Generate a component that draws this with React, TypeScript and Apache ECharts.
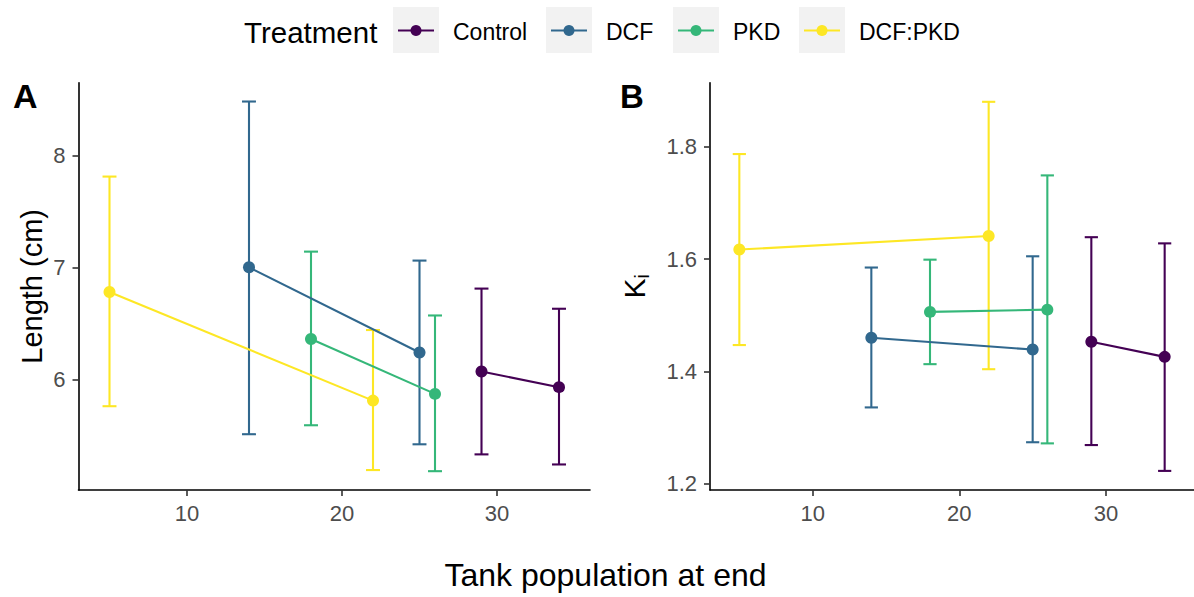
import React, { useEffect, useRef } from "react";
import * as echarts from "echarts";

const FONT = "'Liberation Sans', Arial, Helvetica, sans-serif";

const treatments = ["Control", "DCF", "PKD", "DCF:PKD"];
const colors = ["#440154", "#31688E", "#35B779", "#FDE725"];

// Tank population at end (x)
const popControl = [29, 34];
const popDCF = [14, 25];
const popPKD = [18, 26];
const popDCFPKD = [5, 22];

// Panel A: Length (cm)
const lenMeanControl = [6.07, 5.93];
const lenLowControl = [5.33, 5.24];
const lenHighControl = [6.81, 6.63];
const lenMeanDCF = [7.0, 6.24];
const lenLowDCF = [5.51, 5.42];
const lenHighDCF = [8.48, 7.06];
const lenMeanPKD = [6.36, 5.87];
const lenLowPKD = [5.59, 5.18];
const lenHighPKD = [7.14, 6.57];
const lenMeanDCFPKD = [6.78, 5.81];
const lenLowDCFPKD = [5.76, 5.19];
const lenHighDCFPKD = [7.81, 6.44];

// Panel B: K_i
const kMeanControl = [1.453, 1.426];
const kLowControl = [1.269, 1.223];
const kHighControl = [1.639, 1.628];
const kMeanDCF = [1.46, 1.439];
const kLowDCF = [1.336, 1.274];
const kHighDCF = [1.585, 1.605];
const kMeanPKD = [1.506, 1.51];
const kLowPKD = [1.413, 1.272];
const kHighPKD = [1.599, 1.749];
const kMeanDCFPKD = [1.617, 1.641];
const kLowDCFPKD = [1.447, 1.404];
const kHighDCFPKD = [1.787, 1.88];

const xTicks = [10, 20, 30];
const lenTicks = [6, 7, 8];
const kTicks = [1.2, 1.4, 1.6, 1.8];

const pops = [popControl, popDCF, popPKD, popDCFPKD];
const lenMeans = [lenMeanControl, lenMeanDCF, lenMeanPKD, lenMeanDCFPKD];
const lenLows = [lenLowControl, lenLowDCF, lenLowPKD, lenLowDCFPKD];
const lenHighs = [lenHighControl, lenHighDCF, lenHighPKD, lenHighDCFPKD];
const kMeans = [kMeanControl, kMeanDCF, kMeanPKD, kMeanDCFPKD];
const kLows = [kLowControl, kLowDCF, kLowPKD, kLowDCFPKD];
const kHighs = [kHighControl, kHighDCF, kHighPKD, kHighDCFPKD];

const CAP_HALF = 0.45;

function errorSeries(name: string, color: string, idx: number, x: number[], lo: number[], hi: number[]) {
  return {
    type: "custom",
    name,
    xAxisIndex: idx,
    yAxisIndex: idx,
    clip: false,
    encode: { x: 0, y: [1, 2] },
    data: x.map((v, i) => [v, lo[i], hi[i]]),
    renderItem: (params: any, api: any) => {
      const xv = api.value(0);
      const l = api.value(1);
      const h = api.value(2);
      const top = api.coord([xv, h]);
      const bot = api.coord([xv, l]);
      const left = api.coord([xv - CAP_HALF, h])[0];
      const right = api.coord([xv + CAP_HALF, h])[0];
      const st = { stroke: color, lineWidth: 2.1, fill: null };
      return {
        type: "group",
        children: [
          { type: "line", shape: { x1: top[0], y1: top[1], x2: bot[0], y2: bot[1] }, style: st },
          { type: "line", shape: { x1: left, y1: top[1], x2: right, y2: top[1] }, style: st },
          { type: "line", shape: { x1: left, y1: bot[1], x2: right, y2: bot[1] }, style: st },
        ],
      };
    },
  };
}

function lineSeries(name: string, color: string, idx: number, x: number[], m: number[]) {
  return {
    type: "line",
    name,
    xAxisIndex: idx,
    yAxisIndex: idx,
    data: x.map((v, i) => [v, m[i]]),
    symbol: "circle",
    symbolSize: 12,
    showSymbol: true,
    lineStyle: { color, width: 2.1 },
    itemStyle: { color },
    clip: false,
  };
}

const axisLineStyle = { show: true, lineStyle: { color: "#000", width: 1.6 } };

function xAxis(idx: number) {
  return {
    type: "value",
    gridIndex: idx,
    min: 3,
    max: 36,
    axisLine: axisLineStyle,
    axisTick: { show: true, customValues: xTicks, length: 6, lineStyle: { color: "#333", width: 1.6 } },
    axisLabel: { customValues: xTicks, color: "#4D4D4D", fontSize: 22, margin: 12, fontFamily: FONT },
    splitLine: { show: false },
  };
}

function legendGraphics() {
  const boxes = [393, 546, 673, 799];
  const out: any[] = [
    {
      type: "text",
      x: 244,
      y: 32.5,
      style: { text: "Treatment", fontSize: 29.5, fontFamily: FONT, fill: "#000", verticalAlign: "middle", textAlign: "left" },
    },
  ];
  treatments.forEach((t, i) => {
    const b = boxes[i];
    out.push({ type: "rect", shape: { x: b, y: 7, width: 46, height: 46 }, style: { fill: "#F2F2F2" } });
    out.push({ type: "line", shape: { x1: b + 5, y1: 30.5, x2: b + 41, y2: 30.5 }, style: { stroke: colors[i], lineWidth: 2.1 } });
    out.push({ type: "circle", shape: { cx: b + 23, cy: 30.5, r: 5.5 }, style: { fill: colors[i] } });
    out.push({
      type: "text",
      x: b + 60,
      y: 31.5,
      style: { text: t, fontSize: 23, fontFamily: FONT, fill: "#000", verticalAlign: "middle", textAlign: "left" },
    });
  });
  return out;
}

export default function App() {
  const ref = useRef<HTMLDivElement>(null);
  useEffect(() => {
    if (!ref.current) return;
    const chart = echarts.init(ref.current, undefined, { renderer: "svg" });
    const series: any[] = [];
    treatments.forEach((t, i) => {
      series.push(errorSeries(t, colors[i], 0, pops[i], lenLows[i], lenHighs[i]));
      series.push(lineSeries(t, colors[i], 0, pops[i], lenMeans[i]));
      series.push(errorSeries(t, colors[i], 1, pops[i], kLows[i], kHighs[i]));
      series.push(lineSeries(t, colors[i], 1, pops[i], kMeans[i]));
    });
    const option: any = {
      animation: false,
      textStyle: { fontFamily: FONT },
      grid: [
        { left: 78.5, top: 82.7, width: 511.5, height: 407.3 },
        { left: 710, top: 82.7, width: 487, height: 407.3 },
      ],
      xAxis: [xAxis(0), xAxis(1)],
      yAxis: [
        {
          type: "value",
          gridIndex: 0,
          min: 5.012,
          max: 8.648,
          name: "Length (cm)",
          nameLocation: "middle",
          nameGap: 32,
          nameTextStyle: { fontSize: 29, color: "#000", fontFamily: FONT },
          axisLine: axisLineStyle,
          axisTick: { show: true, customValues: lenTicks, length: 6, lineStyle: { color: "#333", width: 1.6 } },
          axisLabel: { customValues: lenTicks, color: "#4D4D4D", fontSize: 22, margin: 13, fontFamily: FONT },
          splitLine: { show: false },
        },
        {
          type: "value",
          gridIndex: 1,
          min: 1.189,
          max: 1.914,
          name: "{k|K}{i|i}",
          nameLocation: "middle",
          nameGap: 58,
          nameTextStyle: {
            color: "#000",
            fontFamily: FONT,
            rich: {
              k: { fontSize: 30, lineHeight: 35, fontFamily: FONT, color: "#000" },
              i: { fontSize: 20, lineHeight: 20, verticalAlign: "bottom", fontFamily: FONT, color: "#000" },
            },
          },
          axisLine: axisLineStyle,
          axisTick: { show: true, customValues: kTicks, length: 6, lineStyle: { color: "#333", width: 1.6 } },
          axisLabel: {
            customValues: kTicks,
            color: "#4D4D4D",
            fontSize: 22,
            margin: 13,
            fontFamily: FONT,
            formatter: (v: number) => v.toFixed(1),
          },
          splitLine: { show: false },
        },
      ],
      series,
      graphic: [
        ...legendGraphics(),
        {
          type: "text",
          x: 13,
          y: 96,
          style: { text: "A", fontSize: 34, fontWeight: "bold", fontFamily: FONT, fill: "#000", verticalAlign: "middle" },
        },
        {
          type: "text",
          x: 620,
          y: 96,
          style: { text: "B", fontSize: 33, fontWeight: "bold", fontFamily: FONT, fill: "#000", verticalAlign: "middle" },
        },
        {
          type: "text",
          x: 605.5,
          y: 575,
          style: {
            text: "Tank population at end",
            fontSize: 32,
            fontFamily: FONT,
            fill: "#000",
            textAlign: "center",
            verticalAlign: "middle",
          },
        },
      ],
    };
    chart.setOption(option);
    return () => chart.dispose();
  }, []);
  return (
    <div
      ref={ref}
      style={{ position: "fixed", left: 0, top: 0, width: 1194, height: 597, background: "#fff", overflow: "hidden" }}
    />
  );
}
